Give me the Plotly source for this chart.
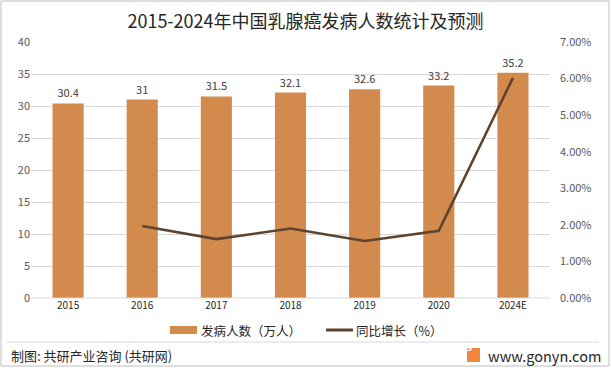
import plotly.graph_objects as go

years = ["2015", "2016", "2017", "2018", "2019", "2020", "2024E"]
cases = [30.4, 31, 31.5, 32.1, 32.6, 33.2, 35.2]
growth_years = ["2016", "2017", "2018", "2019", "2020", "2024E"]
growth = [1.97, 1.61, 1.90, 1.56, 1.84, 6.02]

W, H = 611, 368
L, R, T, B = 31, 550, 42, 298
def px(x): return (x - L) / (R - L)
def py(y): return (B - y) / (B - T)

FONT = "Noto Sans CJK SC, Microsoft YaHei, sans-serif"
BAR = "#D38B4D"
LINE = "#5E432E"

fig = go.Figure()
fig.add_trace(go.Bar(
    x=years, y=cases, name="发病人数（万人）",
    marker=dict(color=BAR, line=dict(width=0)),
    text=[f"{v:g}" for v in cases], textposition="outside",
    textfont=dict(size=11, color="#404040", family=FONT),
    cliponaxis=False, showlegend=False,
))
fig.add_trace(go.Scatter(
    x=growth_years, y=growth, name="同比增长（%）", yaxis="y2",
    mode="lines", line=dict(color=LINE, width=2.6), showlegend=False,
))

fig.update_layout(
    width=W, height=H,
    margin=dict(l=L, r=W - R, t=T, b=H - B),
    paper_bgcolor="white", plot_bgcolor="white",
    font=dict(family=FONT, color="#595959", size=11),
    bargap=0.58,
    showlegend=False,
    title=dict(text="2015-2024年中国乳腺癌发病人数统计及预测", x=0.5, xanchor="center",
               y=1 - 22 / H, yanchor="middle", yref="container",
               font=dict(size=18, color="#262626", family=FONT)),
    xaxis=dict(type="category", showgrid=False, showline=False, ticks="",
               tickfont=dict(size=10, color="#262626")),
    yaxis=dict(range=[0, 40], dtick=5, showgrid=True, gridcolor="#D9D9D9", gridwidth=1,
               zeroline=False, showline=False, ticks="",
               tickfont=dict(size=11, color="#595959")),
    yaxis2=dict(range=[0, 7], dtick=1, overlaying="y", side="right", showgrid=False,
                zeroline=False, showline=False, ticks="", ticksuffix="%",
                tickformat=".2f", ticklabelstandoff=9,
                tickfont=dict(size=11, color="#595959")),
)

# zero line at bottom
fig.add_shape(type="line", xref="paper", yref="paper", x0=0, x1=1, y0=0, y1=0,
              line=dict(color="#D9D9D9", width=1))
# legend (drawn manually to get the wide bar swatch)
fig.add_shape(type="rect", xref="paper", yref="paper", x0=px(170), x1=px(197),
              y0=py(326), y1=py(334), line=dict(width=0), fillcolor=BAR)
fig.add_annotation(xref="paper", yref="paper", x=px(199), y=py(330), xanchor="left",
                   yanchor="middle", text="发病人数（万人）", showarrow=False,
                   font=dict(size=12.5, color="#262626", family=FONT))
fig.add_shape(type="line", xref="paper", yref="paper", x0=px(326), x1=px(353),
              y0=py(330), y1=py(330), line=dict(color=LINE, width=3))
fig.add_annotation(xref="paper", yref="paper", x=px(354), y=py(330), xanchor="left",
                   yanchor="middle", text="同比增长（%）", showarrow=False,
                   font=dict(size=12.5, color="#262626", family=FONT))
# footer separator
fig.add_shape(type="line", xref="paper", yref="paper", x0=px(6), x1=px(599),
              y0=py(342), y1=py(342), line=dict(color="#D9D9D9", width=1))
# outer border
fig.add_shape(type="rect", xref="paper", yref="paper", x0=px(1), x1=px(609),
              y0=py(1), y1=py(366), line=dict(color="#BFBFBF", width=1))
# logo
fig.add_shape(type="rect", xref="paper", yref="paper", x0=px(467), x1=px(480),
              y0=py(348), y1=py(362), line=dict(width=0), fillcolor="#F0873A")
fig.add_annotation(xref="paper", yref="paper", x=px(473.5), y=py(355), text="<b>G</b>",
                   showarrow=False, font=dict(size=9, color="white", family="Arial"))
fig.add_annotation(xref="paper", yref="paper", x=px(486), y=py(355), xanchor="left",
                   yanchor="middle", text="www.gonyn.com", showarrow=False,
                   font=dict(size=14.5, color="#262626", family=FONT))
fig.add_annotation(xref="paper", yref="paper", x=px(9), y=py(355), xanchor="left",
                   yanchor="middle", text="制图: 共研产业咨询 (共研网)", showarrow=False,
                   font=dict(size=13, color="#262626", family=FONT))

fig.write_html("out.html", config={"displayModeBar": False},
               post_script="document.body.style.margin='0';document.body.style.overflow='hidden';")
